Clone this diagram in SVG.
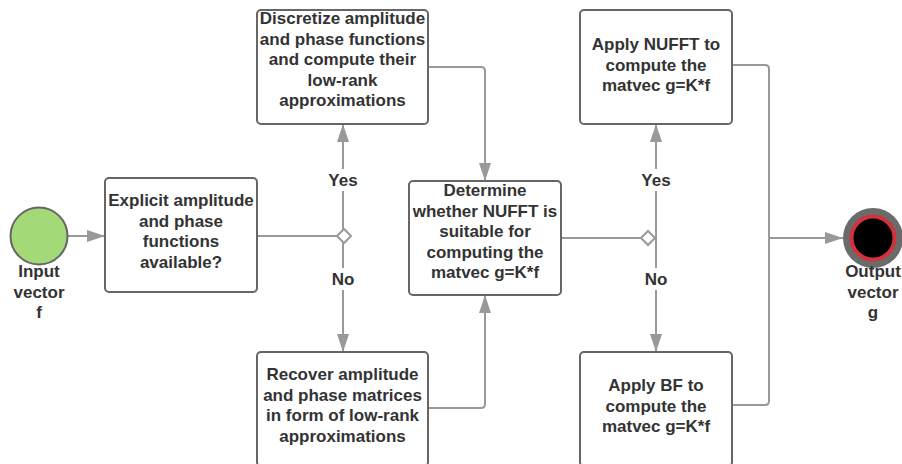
<svg xmlns="http://www.w3.org/2000/svg" width="902" height="464" viewBox="0 0 902 464">
<defs>
<style>
.box{fill:#fff;stroke:#666;stroke-width:2}
.t{font-family:"Liberation Sans",Arial,sans-serif;font-weight:bold;font-size:17px;fill:#333;text-anchor:middle}
.c{fill:none;stroke:#999;stroke-width:2}
.lbl{fill:#fff}
</style>
<marker id="ah" markerUnits="userSpaceOnUse" markerWidth="18" markerHeight="12" refX="18" refY="6" orient="auto">
<path d="M0,0 L18,6 L0,12 Z" fill="#999"/>
</marker>
</defs>
<rect width="902" height="464" fill="#fff"/>

<g id="connectors">
<path class="c" d="M68,236 H105" marker-end="url(#ah)"/>
<path class="c" d="M257,236 H337"/>
<path class="c" d="M343,236 V124" marker-end="url(#ah)"/>
<path class="c" d="M343,236 V352" marker-end="url(#ah)"/>
<path class="c" d="M428,67 H481 Q485,67 485,71 V181" marker-end="url(#ah)"/>
<path class="c" d="M428,408 H481 Q485,408 485,404 V295" marker-end="url(#ah)"/>
<path class="c" d="M561,238 H641"/>
<path class="c" d="M656,238 V124" marker-end="url(#ah)"/>
<path class="c" d="M656,238 V352" marker-end="url(#ah)"/>
<path class="c" d="M732,65 H765 Q769,65 769,69 V401 Q769,405 765,405 H732"/>
<path class="c" d="M769,238 H843" marker-end="url(#ah)"/>
<path d="M337,236 L344,229 L351,236 L344,243 Z" fill="#fff" stroke="#999" stroke-width="2"/>
<path d="M641,238 L648,231 L655,238 L648,245 Z" fill="#fff" stroke="#999" stroke-width="2"/>
<rect class="lbl" x="327" y="169" width="32" height="22"/>
<text class="t" x="343" y="186">Yes</text>
<rect class="lbl" x="329" y="268" width="28" height="22"/>
<text class="t" x="343" y="285">No</text>
<rect class="lbl" x="640" y="169" width="32" height="22"/>
<text class="t" x="656" y="186">Yes</text>
<rect class="lbl" x="642" y="268" width="28" height="22"/>
<text class="t" x="656" y="285">No</text>
</g>

<g id="input">
<circle cx="39" cy="236" r="28.5" fill="#a3d977" stroke="#666" stroke-width="2"/>
<text class="t" x="39" y="277">Input</text>
<text class="t" x="39" y="297.5">vector</text>
<text class="t" x="39" y="318">f</text>
</g>

<g id="explicit">
<rect class="box" x="105" y="178" width="152" height="114" rx="4"/>
<text class="t" x="181" y="206">Explicit amplitude</text>
<text class="t" x="181" y="226.5">and phase</text>
<text class="t" x="181" y="247">functions</text>
<text class="t" x="181" y="267.5">available?</text>
</g>

<g id="discretize">
<rect class="box" x="257" y="10" width="171" height="114" rx="4"/>
<text class="t" x="342.5" y="24">Discretize amplitude</text>
<text class="t" x="342.5" y="44.5">and phase functions</text>
<text class="t" x="342.5" y="65">and compute their</text>
<text class="t" x="342.5" y="85.5">low-rank</text>
<text class="t" x="342.5" y="106">approximations</text>
</g>

<g id="recover">
<rect class="box" x="257" y="352" width="171" height="114" rx="4"/>
<text class="t" x="342.5" y="380">Recover amplitude</text>
<text class="t" x="342.5" y="400.5">and phase matrices</text>
<text class="t" x="342.5" y="421">in form of low-rank</text>
<text class="t" x="342.5" y="441.5">approximations</text>
</g>

<g id="determine">
<rect class="box" x="409" y="181" width="152" height="114" rx="4"/>
<text class="t" x="485" y="196">Determine</text>
<text class="t" x="485" y="216.5">whether NUFFT is</text>
<text class="t" x="485" y="237">suitable for</text>
<text class="t" x="485" y="257.5">computing the</text>
<text class="t" x="485" y="278">matvec g=K*f</text>
</g>

<g id="nufft">
<rect class="box" x="580" y="10" width="152" height="114" rx="4"/>
<text class="t" x="656" y="50">Apply NUFFT to</text>
<text class="t" x="656" y="70.5">compute the</text>
<text class="t" x="656" y="91">matvec g=K*f</text>
</g>

<g id="bf">
<rect class="box" x="580" y="352" width="152" height="114" rx="4"/>
<text class="t" x="656" y="391">Apply BF to</text>
<text class="t" x="656" y="411.5">compute the</text>
<text class="t" x="656" y="432">matvec g=K*f</text>
</g>

<g id="output">
<circle cx="873" cy="238" r="30" fill="#6b6b6b"/>
<circle cx="873" cy="238" r="21.5" fill="#000" stroke="#d1323c" stroke-width="4"/>
<text class="t" x="873" y="277">Output</text>
<text class="t" x="873" y="297.5">vector</text>
<text class="t" x="873" y="318">g</text>
</g>
</svg>
